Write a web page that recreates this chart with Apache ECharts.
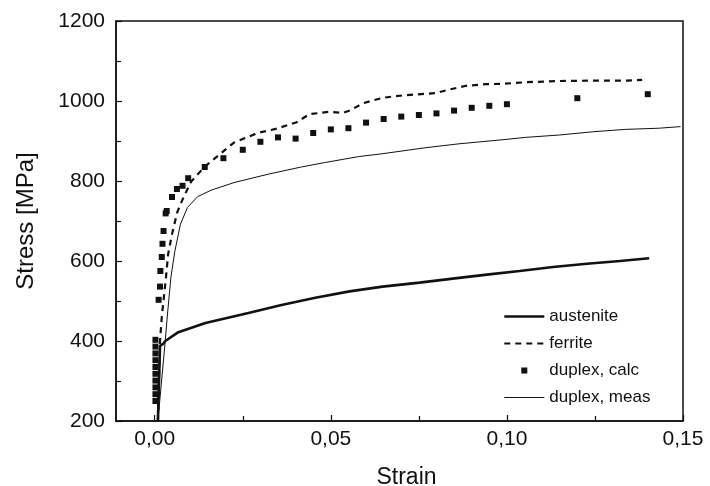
<!DOCTYPE html>
<html>
<head>
<meta charset="utf-8">
<script src="https://cdn.jsdelivr.net/npm/echarts@6/dist/echarts.min.js"></script>
<style>
  html, body { margin: 0; padding: 0; background: #fff; }
  #chart { width: 710px; height: 486px; }
</style>
</head>
<body>
<div id="chart"></div>
<script>
// values: [strain, stress MPa]
var austenite = [
  [0.0009, 200], [0.0015, 388], [0.0024, 393], [0.003, 400], [0.0067, 422],
  [0.0144, 445], [0.0266, 470], [0.036, 490], [0.0456, 508], [0.0553, 524],
  [0.0647, 536], [0.0752, 546], [0.0846, 556], [0.0943, 566], [0.1036, 575],
  [0.1131, 585], [0.1227, 593], [0.1321, 600], [0.1404, 607]
];
var ferrite = [
  [0.0009, 200], [0.0015, 400], [0.002, 460], [0.0026, 510], [0.0032, 560],
  [0.0038, 617], [0.0049, 667], [0.0064, 722], [0.0079, 754], [0.0103, 798],
  [0.0141, 835], [0.0192, 872], [0.0225, 896], [0.0292, 920], [0.0347, 931],
  [0.0403, 947], [0.0439, 967], [0.0496, 973], [0.0533, 970], [0.0556, 977],
  [0.059, 994], [0.0647, 1008], [0.0704, 1014], [0.077, 1018], [0.0798, 1020],
  [0.0838, 1029], [0.0884, 1038], [0.0941, 1042], [0.0989, 1043], [0.1054, 1047],
  [0.1151, 1050], [0.1246, 1051], [0.134, 1051], [0.1384, 1053]
];
var duplexCalc = [
  [0.0002, 250], [0.0002, 267], [0.0002, 284], [0.0002, 301], [0.0002, 318],
  [0.0002, 335], [0.0002, 352], [0.0002, 369], [0.0002, 386], [0.0002, 403],
  [0.0011, 503], [0.0015, 536], [0.0016, 575], [0.002, 610], [0.0022, 643],
  [0.0025, 675], [0.0031, 719], [0.0034, 725], [0.0049, 760], [0.0063, 780],
  [0.0079, 788], [0.0095, 807], [0.0142, 835], [0.0195, 857], [0.025, 878],
  [0.03, 898], [0.035, 909], [0.04, 906], [0.045, 920], [0.05, 929],
  [0.055, 932], [0.06, 946], [0.065, 955], [0.07, 961], [0.075, 965],
  [0.08, 969], [0.085, 976], [0.09, 983], [0.095, 988], [0.1, 992],
  [0.12, 1007], [0.14, 1017]
];
var duplexMeas = [
  [0.0009, 200], [0.0029, 392], [0.0037, 475], [0.0046, 560], [0.0057, 624],
  [0.0073, 692], [0.0093, 734], [0.0122, 761], [0.016, 777], [0.0225, 796],
  [0.0322, 817], [0.0416, 835], [0.0482, 846], [0.0579, 861], [0.0645, 868],
  [0.0767, 883], [0.0864, 893], [0.0986, 903], [0.1052, 909], [0.1149, 915],
  [0.1243, 923], [0.1336, 929], [0.1433, 932], [0.1493, 936]
];
var xMajorTicks = [0, 0.05, 0.1, 0.15];
var xMinorTicks = [0.025, 0.075, 0.125];

var ink = "#111";
var font = "Liberation Sans";
// hides the marker ECharts puts in the middle of a line legend icon
var noMarker = { color: "rgba(0,0,0,0)", borderWidth: 0 };

var chart = echarts.init(document.getElementById("chart"));
chart.setOption({
  animation: false,
  textStyle: { fontFamily: font, color: ink },
  grid: {
    left: 116, right: 27, top: 21, bottom: 65,
    outerBoundsMode: "none",
    show: true, borderColor: ink, borderWidth: 1.5
  },
  legend: {
    orient: "vertical",
    left: 498,
    top: 303,
    itemWidth: 40,
    itemHeight: 14,
    itemGap: 10,
    textStyle: { fontFamily: font, fontSize: 17, color: ink },
    data: [
      { name: "austenite", itemStyle: noMarker, lineStyle: { width: 2.6 } },
      { name: "ferrite", itemStyle: noMarker, lineStyle: { width: 2.2 } },
      { name: "duplex, calc", icon: "path://M0,0M40,14M17,4h6v6h-6z" },
      { name: "duplex, meas", itemStyle: noMarker, lineStyle: { width: 1 } }
    ]
  },
  xAxis: [
    {
      type: "value",
      min: -0.011,
      max: 0.15,
      name: "Strain",
      nameLocation: "middle",
      nameGap: 45,
      nameTextStyle: { fontSize: 23, color: ink, padding: [0, 0, 0, 14] },
      axisLine: { onZero: false, lineStyle: { color: ink, width: 1.5 } },
      axisTick: { inside: true, length: 6, customValues: xMajorTicks, lineStyle: { color: ink, width: 1.2 } },
      axisLabel: {
        customValues: xMajorTicks,
        fontSize: 21,
        color: ink,
        margin: 8,
        formatter: function (v) { return v.toFixed(2).replace(".", ","); }
      },
      splitLine: { show: false }
    },
    {
      type: "value",
      min: -0.011,
      max: 0.15,
      position: "bottom",
      axisLine: { show: false, onZero: false },
      axisTick: { inside: true, length: 5, customValues: xMinorTicks, lineStyle: { color: ink, width: 1.2 } },
      axisLabel: { show: false },
      splitLine: { show: false }
    }
  ],
  yAxis: {
    type: "value",
    min: 200,
    max: 1200,
    interval: 200,
    name: "Stress [MPa]",
    nameLocation: "middle",
    nameGap: 78,
    nameTextStyle: { fontSize: 24, color: ink },
    axisLine: { show: true, onZero: false, lineStyle: { color: ink, width: 1.5 } },
    axisTick: { show: true, inside: true, length: 6, lineStyle: { color: ink, width: 1.2 } },
    minorTick: { show: true, splitNumber: 2, length: 5, lineStyle: { color: ink, width: 1.2 } },
    axisLabel: {
      fontSize: 21,
      color: ink,
      margin: 11,
      formatter: function (v) { return String(v); }
    },
    splitLine: { show: false }
  },
  series: [
    {
      name: "austenite",
      type: "line",
      data: austenite,
      symbol: "none",
      lineStyle: { color: ink, width: 2.6 },
      itemStyle: { color: ink }
    },
    {
      name: "ferrite",
      type: "line",
      data: ferrite,
      symbol: "none",
      lineStyle: { color: ink, width: 2.2, type: [6, 5] },
      itemStyle: { color: ink }
    },
    {
      name: "duplex, calc",
      type: "scatter",
      data: duplexCalc,
      symbol: "rect",
      symbolSize: 6,
      itemStyle: { color: ink, opacity: 1 },
      z: 5
    },
    {
      name: "duplex, meas",
      type: "line",
      data: duplexMeas,
      symbol: "none",
      lineStyle: { color: ink, width: 1 },
      itemStyle: { color: ink }
    }
  ]
});
</script>
</body>
</html>
